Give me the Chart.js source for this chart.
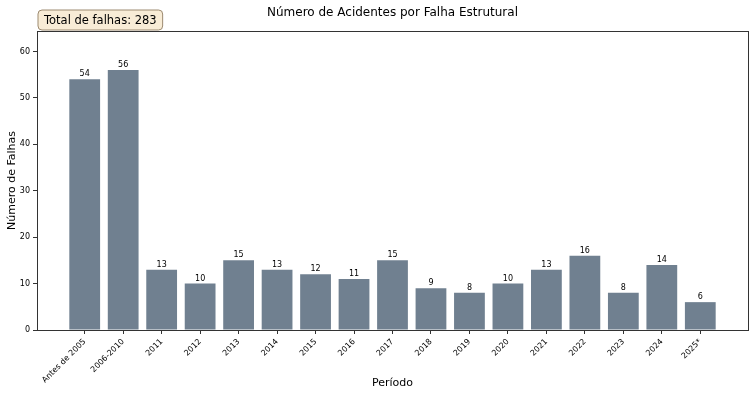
<!DOCTYPE html>
<html>
<head>
<meta charset="utf-8">
<script src="https://cdn.jsdelivr.net/npm/chart.js@4/dist/chart.umd.min.js"></script>
<style>
  html, body { margin: 0; padding: 0; background: #fff; }
  #wrap { width: 756px; height: 396px; }
</style>
</head>
<body>
<div id="wrap"><canvas id="chart" width="756" height="396"></canvas></div>
<script>
const periodos = ['Antes de 2005', '2006-2010', '2011', '2012', '2013', '2014', '2015', '2016', '2017',
  '2018', '2019', '2020', '2021', '2022', '2023', '2024', '2025*'];
const falhas = [54, 56, 13, 10, 15, 13, 12, 11, 15, 9, 8, 10, 13, 16, 8, 14, 6];
const yTicks = [0, 10, 20, 30, 40, 50, 60];

const FONT = "'DejaVu Sans', sans-serif";
const total = falhas.reduce((a, b) => a + b, 0);

// margens como no matplotlib (5% do intervalo dos dados)
const span = (periodos.length - 1) + 0.8;
const xMin = -0.4 - span * 0.05;
const xMax = periodos.length - 1 + 0.4 + span * 0.05;
const yMax = Math.max(...falhas) * 1.15;

const extras = {
  id: 'extras',
  afterDatasetsDraw(chart) {
    const ctx = chart.ctx;
    const meta = chart.getDatasetMeta(0);

    // valores em cima das barras
    ctx.save();
    ctx.fillStyle = '#000';
    ctx.font = '8px ' + FONT;
    ctx.textAlign = 'center';
    ctx.textBaseline = 'bottom';
    meta.data.forEach((bar, i) => {
      ctx.fillText(String(falhas[i]), bar.x, bar.y - 1);
    });
    ctx.restore();
  },
  afterDraw(chart) {
    const ctx = chart.ctx;
    const a = chart.chartArea;
    ctx.save();
    // moldura
    ctx.strokeStyle = '#333';
    ctx.lineWidth = 1;
    ctx.strokeRect(Math.round(a.left) + 0.5, Math.round(a.top) + 0.5,
      Math.round(a.right - a.left), Math.round(a.bottom - a.top));

    // título
    ctx.fillStyle = '#000';
    ctx.font = '12px ' + FONT;
    ctx.textAlign = 'center';
    ctx.textBaseline = 'middle';
    ctx.fillText('Número de Acidentes por Falha Estrutural', (a.left + a.right) / 2, 13);

    // caixa do total
    const txt = 'Total de falhas: ' + total;
    ctx.font = '11.5px ' + FONT;
    const w = ctx.measureText(txt).width + 12;
    const x = 38, y = 10, h = 20, r = 4;
    ctx.beginPath();
    ctx.moveTo(x + r, y);
    ctx.arcTo(x + w, y, x + w, y + h, r);
    ctx.arcTo(x + w, y + h, x, y + h, r);
    ctx.arcTo(x, y + h, x, y, r);
    ctx.arcTo(x, y, x + w, y, r);
    ctx.closePath();
    ctx.fillStyle = '#f8ecd6';
    ctx.fill();
    ctx.strokeStyle = '#9c8a70';
    ctx.stroke();
    ctx.fillStyle = '#000';
    ctx.textAlign = 'left';
    ctx.fillText(txt, x + 6, y + h / 2 + 1);
    ctx.restore();
  }
};

new Chart(document.getElementById('chart'), {
  type: 'bar',
  data: {
    datasets: [{
      data: falhas.map((v, i) => ({ x: i, y: v })),
      backgroundColor: '#708090',
      borderWidth: 0,
      barPercentage: 0.8,
      categoryPercentage: 1.0
    }]
  },
  options: {
    responsive: false,
    animation: false,
    layout: { padding: { top: 31, right: 8, left: 0, bottom: 0 } },
    plugins: { legend: { display: false }, tooltip: { enabled: false }, title: { display: false } },
    scales: {
      x: {
        type: 'linear',
        min: xMin,
        max: xMax,
        offset: false,
        afterFit(scale) { scale.height = 66; },
        afterBuildTicks(scale) {
          scale.ticks = periodos.map((p, i) => ({ value: i }));
        },
        ticks: {
          autoSkip: false,
          maxRotation: 45,
          minRotation: 45,
          color: '#000',
          font: { family: FONT, size: 8 },
          padding: 3,
          callback: (v) => periodos[v]
        },
        grid: { display: true, offset: false, drawOnChartArea: false, tickLength: 4, color: '#333' },
        border: { display: false },
        title: {
          display: true,
          text: 'Período',
          color: '#000',
          font: { family: FONT, size: 11 },
          padding: { top: 0, bottom: 6 }
        }
      },
      y: {
        min: 0,
        max: yMax,
        afterFit(scale) { scale.width = 37; },
        afterBuildTicks(scale) {
          scale.ticks = yTicks.map(v => ({ value: v }));
        },
        ticks: {
          color: '#000',
          font: { family: FONT, size: 8 },
          padding: 3
        },
        grid: { display: true, drawOnChartArea: false, tickLength: 4, color: '#333' },
        border: { display: false },
        title: {
          display: true,
          text: 'Número de Falhas',
          color: '#000',
          font: { family: FONT, size: 11 },
          padding: { top: 6, bottom: 0 }
        }
      }
    }
  },
  plugins: [extras]
});
</script>
</body>
</html>
